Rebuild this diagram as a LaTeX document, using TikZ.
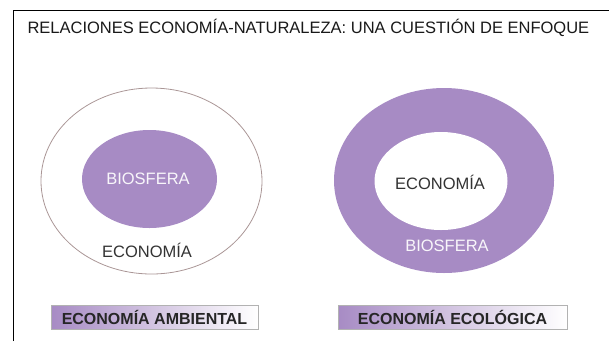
\documentclass[tikz,border=0pt]{standalone}
\usepackage{fontspec}
\setmainfont{Liberation Sans}
\definecolor{biopurple}{RGB}{167,139,196}
\definecolor{ringline}{RGB}{170,150,150}
\begin{document}
\begin{tikzpicture}[x=1pt,y=-1pt,
    heading/.style={anchor=base west,font=\fontsize{16.5}{18}\selectfont,text=black!90},
    inlabel/.style={font=\fontsize{16.5}{18}\selectfont},
    tagbox/.style={draw=black!30,left color=biopurple,middle color=biopurple!25,right color=white,
      minimum height=24pt,inner sep=0pt,text=black!85,
      font=\bfseries\fontsize{16}{18}\selectfont}]
    \useasboundingbox (0,0) rectangle (609,341);
    %% frame and title
    \draw[line width=1.5pt] (13.5,341) -- (13.5,10.5) -- (609,10.5);
    \node[heading] (head) at (24,33) {RELACIONES ECONOMÍA-NATURALEZA: UNA CUESTIÓN DE ENFOQUE};
    %% economia ambiental
    \draw[ringline,line width=0.8pt] (151.5,181) ellipse (110.5pt and 93pt);
    \fill[biopurple] (149.5,179) ellipse (67.5pt and 49pt);
    \node[inlabel,text=white!92!biopurple] (bioL) at (148,179) {BIOSFERA};
    \node[inlabel,text=black!80] (ecoL) at (147,250) {ECONOMÍA};
    \node[tagbox,minimum width=207pt] (tagL) at (154.5,317) {ECONOMÍA AMBIENTAL};
    %% economia ecologica
    \fill[biopurple] (444,180.5) ellipse (110pt and 92.5pt);
    \fill[white] (441,181) ellipse (66.5pt and 49pt);
    \node[inlabel,text=black!80] (ecoR) at (440,182) {ECONOMÍA};
    \node[inlabel,text=white!92!biopurple] (bioR) at (447,246) {BIOSFERA};
    \node[tagbox,minimum width=229pt] (tagR) at (452.5,317) {ECONOMÍA ECOLÓGICA};
\end{tikzpicture}
\end{document}
